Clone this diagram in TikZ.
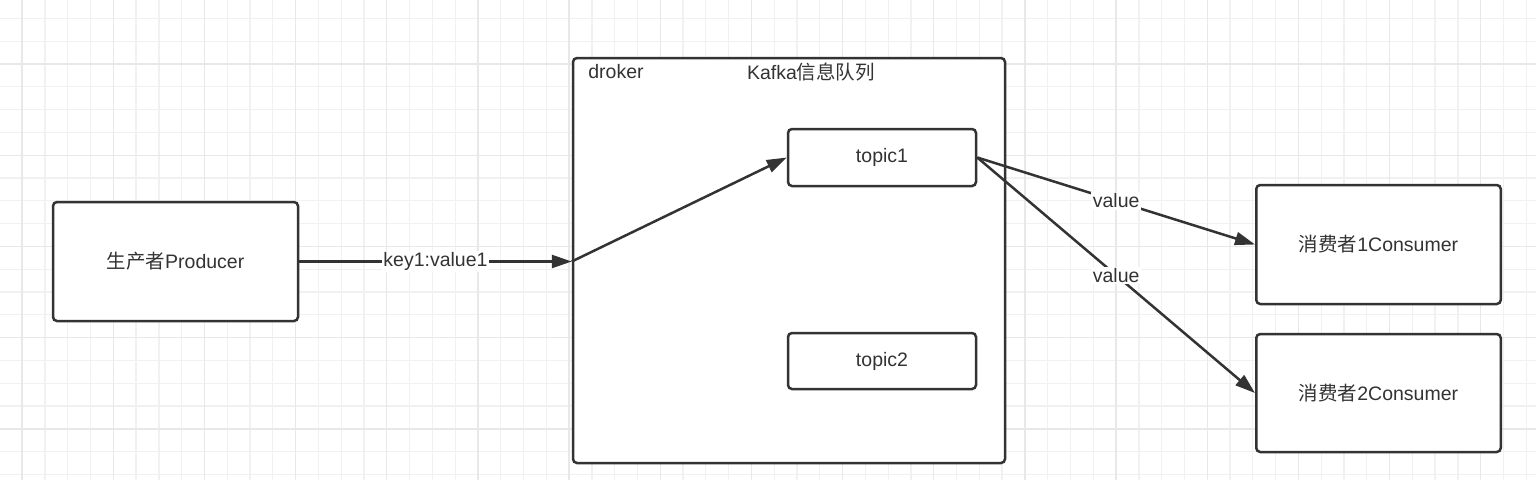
\documentclass[tikz,border=0pt]{standalone}
\usepackage{fontspec}
\setmainfont{Liberation Sans}
\newfontfamily\cjk{Noto Sans CJK SC}
\usetikzlibrary{arrows.meta}
\definecolor{ink}{HTML}{333333}
\definecolor{gridminor}{HTML}{F1F1F1}
\definecolor{gridmajor}{HTML}{E8E8E8}
\tikzset{
  box/.style={draw=ink, line width=2.5pt, rounded corners=4pt, fill=white, text=ink, font=\fontsize{19.5}{21}\selectfont, inner sep=0pt},
  conn/.style={draw=ink, line width=2.5pt, -{Triangle[length=20pt,width=13pt]}},
  lbl/.style={fill=white, text=ink, font=\fontsize{19.5}{21}\selectfont, inner sep=1.5pt},
  plain/.style={text=ink, font=\fontsize{19.5}{21}\selectfont, inner sep=0pt},
  minorline/.style={draw=gridminor, line width=1.3pt},
  majorline/.style={draw=gridmajor, line width=1.4pt}
}
\begin{document}
\begin{tikzpicture}[x=1pt,y=-1pt]
\useasboundingbox (0,0) rectangle (1536,480);
\fill[white] (0,0) rectangle (1536,480);
% grid
\foreach \i in {0,...,67} {\draw[minorline] ({22.14+\i*22.79},0) -- ({22.14+\i*22.79},480);}
\foreach \j in {0,...,21} {\draw[minorline] (0,{18.4+\j*22.8}) -- (1536,{18.4+\j*22.8});}
\foreach \i in {0,...,16} {\draw[majorline] ({22.14+\i*91.16},0) -- ({22.14+\i*91.16},480);}
\foreach \j in {0,...,5} {\draw[majorline] (0,{64+(\j-1)*91.2}) -- (1536,{64+(\j-1)*91.2});}
% nodes
\node[box, minimum width=245pt, minimum height=119pt] (producer) at (175.5,261.5) {{\cjk 生产者}Producer};
\node[box, minimum width=432pt, minimum height=405pt] (broker) at (789,260.5) {};
\node[plain] (droker) at (616,72) {droker};
\node[plain] (kafka) at (811,72) {Kafka{\cjk 信息队列}};
\node[box, minimum width=188pt, minimum height=57pt] (topic1) at (882,157.5) {topic1};
\node[box, minimum width=188pt, minimum height=56pt] (topic2) at (882,361) {topic2};
\node[box, minimum width=244.5pt, minimum height=119pt] (consumer1) at (1378.5,244.5) {{\cjk 消费者}1Consumer};
\node[box, minimum width=244.5pt, minimum height=118pt] (consumer2) at (1378.5,393) {{\cjk 消费者}2Consumer};
\coordinate (entry) at (producer.east -| broker.west);
% connectors
\draw[conn] (producer.east) -- node[lbl] {key1:value1} (entry);
\draw[conn] (entry) -- (topic1.west);
\draw[conn] (topic1.east) -- node[lbl] {value} (consumer1.west);
\draw[conn] (topic1.east) -- node[lbl] {value} (consumer2.west);
\end{tikzpicture}
\end{document}
